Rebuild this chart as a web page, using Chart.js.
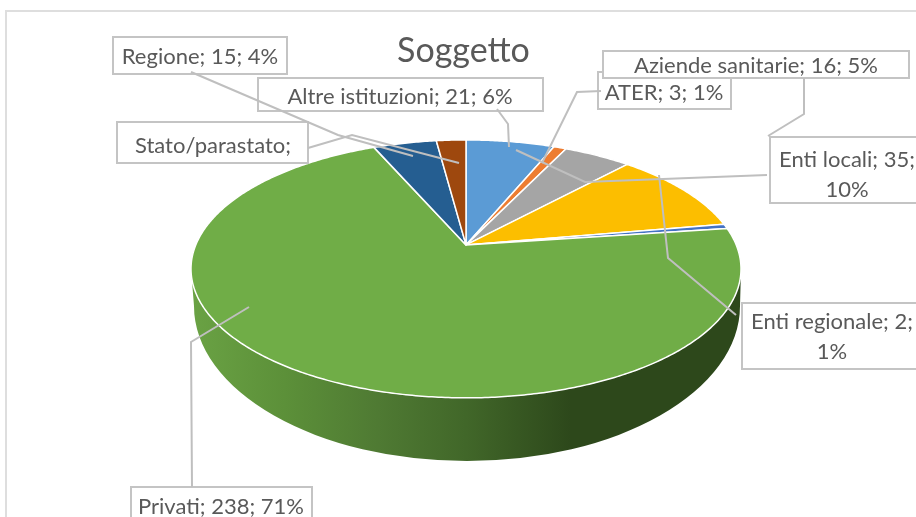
<!DOCTYPE html>
<html><head><meta charset="utf-8">
<style>html,body{margin:0;padding:0;background:#fff}#w{position:relative;width:916px;height:517px}</style>
<script src="https://cdn.jsdelivr.net/npm/chart.js@4"></script>
</head><body><div id="w"><canvas id="c" width="916" height="517"></canvas></div>
<script>
const categories = ["Altre istituzioni","ATER","Aziende sanitarie","Enti locali","Enti regionale","Privati","Regione","Stato/parastato"];
const values = [21,3,16,35,2,238,15,7];
const colors = ["#5b9bd5","#ed7d31","#a5a5a5","#fcbe00","#4472c4","#70ad47","#255e91","#9e480e"];
const titleText = "Soggetto";
const labelLines = [
  ["Altre istituzioni; 21; 6%"],["ATER; 3; 1%"],["Aziende sanitarie; 16; 5%"],
  ["Enti locali; 35;","10%"],["Enti regionale; 2;","1%"],["Privati; 238; 71%"],
  ["Regione; 15; 4%"],["Stato/parastato;"]
];

// Layout of the label callouts: box [x0,y0,x1,y1], text centre x, first baseline y
const boxes = [
  {b:[258,78,543,111],cx:400,y:104},{b:[598,72,731,109],cx:664,y:100},{b:[603,51,909,78],cx:756,y:73},
  {b:[770,137,930,203],cx:847,y:167,},{b:[742,303,930,369],cx:832,y:329},{b:[131,487,312,530],cx:221,y:514},
  {b:[113,37,287,74],cx:200,y:64},{b:[117,122,308,163],cx:213,y:153}
];
const leaders = [
  [[497,109],[508,124],[509,147]],
  [[601,91],[577,92],[542,163]],
  [[804,78],[804,114],[768,136]],
  [[767,175],[585,182],[516,150]],
  [[736,315],[668,258],[659,175]],
  [[192,487],[191,342],[249,307]],
  [[191,72],[338,135],[413,156]],
  [[308,148],[352,135],[459,163]]
];

// Perspective of the disc: unit-circle (u,v) to screen around the pie centre
const K = 0.186, AX = 270.2, BY = 124.5, SHIFT_X = 2.5;
function project(el, u, v){
  const d = 1 - K*v;
  return [el.x + SHIFT_X + AX*u/d, el.y + BY*v/d];
}
const TOP = {cy:269, rx:275, ry:129}, BOT = {cy:306, rx:273, ry:155, dx:1};

Chart.ArcElement.prototype.draw = function(ctx){
  const a0 = this.startAngle, a1 = this.endAngle;
  const n = Math.max(2, Math.ceil((a1-a0)/0.01));
  ctx.save();
  ctx.beginPath();
  ctx.moveTo(...project(this,0,0));
  for(let i=0;i<=n;i++){
    const t = a0 + (a1-a0)*i/n;
    ctx.lineTo(...project(this, Math.cos(t), Math.sin(t)));
  }
  ctx.closePath();
  ctx.fillStyle = this.options.backgroundColor;
  ctx.fill();
  ctx.lineJoin = 'round';
  ctx.strokeStyle = this.options.borderColor;
  ctx.lineWidth = this.options.borderWidth;
  ctx.stroke();
  ctx.restore();
};

const wallPlugin = {
  id:'wall',
  beforeDatasetsDraw(chart){
    const ctx = chart.ctx, cx = chart.getDatasetMeta(0).data[0].x + SHIFT_X;
    const g = ctx.createLinearGradient(cx-TOP.rx,0,cx+TOP.rx,0);
    g.addColorStop(0,'#6aa244');g.addColorStop(0.17,'#5c9039');g.addColorStop(0.34,'#4f7a33');
    g.addColorStop(0.5,'#416729');g.addColorStop(0.69,'#2d481b');g.addColorStop(1,'#2d481b');
    ctx.save();ctx.beginPath();
    ctx.ellipse(cx,TOP.cy,TOP.rx,TOP.ry,0,0,Math.PI,false);
    ctx.ellipse(cx+BOT.dx,BOT.cy,BOT.rx,BOT.ry,0,Math.PI,0,true);
    ctx.closePath();ctx.fillStyle=g;ctx.fill();ctx.restore();
  }
};
const framePlugin = {
  id:'frame',
  beforeDraw(chart){
    const ctx=chart.ctx;ctx.save();ctx.fillStyle='#fff';ctx.fillRect(0,0,916,517);
    ctx.strokeStyle='#dedede';ctx.lineWidth=2;
    ctx.beginPath();ctx.moveTo(6,517);ctx.lineTo(6,11);ctx.lineTo(916,11);ctx.stroke();ctx.restore();
  }
};
const calloutPlugin = {
  id:'callouts',
  afterDatasetsDraw(chart){
    const ctx=chart.ctx;ctx.save();
    boxes.forEach((o,i)=>{
      const [x0,y0,x1,y1]=o.b;
      ctx.fillStyle='#fff';ctx.fillRect(x0,y0,x1-x0,y1-y0);
      ctx.strokeStyle='#c4c4c4';ctx.lineWidth=2;ctx.strokeRect(x0,y0,x1-x0,y1-y0);
      ctx.fillStyle='#595959';ctx.font='22px Lato';ctx.textAlign='center';ctx.textBaseline='alphabetic';
      labelLines[i].forEach((t,j)=>ctx.fillText(t,o.cx,o.y+j*30));
    });
    ctx.strokeStyle='#bfbfbf';ctx.lineWidth=2;
    leaders.forEach(p=>{ctx.beginPath();p.forEach((q,i)=>i?ctx.lineTo(q[0],q[1]):ctx.moveTo(q[0],q[1]));ctx.stroke();});
    ctx.restore();
  }
};

new Chart(document.getElementById('c'),{
  type:'pie',
  data:{labels:categories,datasets:[{data:values,backgroundColor:colors,borderColor:'#ffffff',borderWidth:1.5}]},
  plugins:[framePlugin,wallPlugin,calloutPlugin],
  options:{
    responsive:false,animation:false,
    layout:{padding:{left:11,right:0,top:0,bottom:99}},
    events:[],
    plugins:{
      legend:{display:false},tooltip:{enabled:false},
      title:{display:true,text:titleText,color:'#595959',font:{family:'Lato',size:34,weight:'normal'},padding:{top:31,bottom:0}}
    }
  }
});
</script></body></html>
